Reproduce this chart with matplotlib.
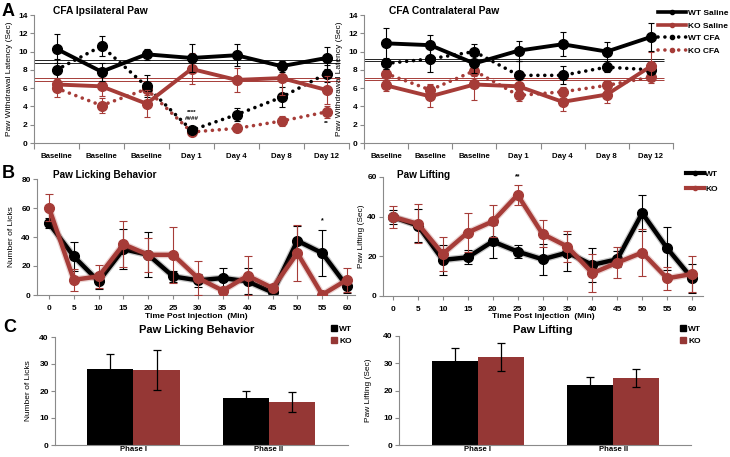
import matplotlib
matplotlib.use("Agg")
import matplotlib.pyplot as plt
import matplotlib.patheffects as pe
from matplotlib.lines import Line2D
from matplotlib.patches import Patch
import numpy as np

plt.rcParams['font.family'] = ['Liberation Sans', 'DejaVu Sans']

# ---- data: panel A (withdrawal latency, sec) ----
days = ["Baseline", "Baseline", "Baseline", "Day 1", "Day 4", "Day 8", "Day 12"]

wt_sal_ipsi = [10.3, 7.8, 9.7, 9.3, 9.6, 8.4, 9.3]
wt_sal_ipsi_err = [1.6, 1.0, 0.6, 1.5, 1.2, 0.6, 1.2]
ko_sal_ipsi = [6.4, 6.2, 4.3, 8.1, 6.9, 7.1, 5.8]
ko_sal_ipsi_err = [0.7, 1.1, 1.5, 1.7, 1.3, 1.8, 1.5]
wt_cfa_ipsi = [8.0, 10.6, 6.2, 1.4, 3.1, 5.0, 7.6]
wt_cfa_ipsi_err = [1.2, 1.1, 1.2, 0.3, 0.7, 1.1, 0.9]
ko_cfa_ipsi = [6.0, 4.1, 5.9, 1.2, 1.6, 2.4, 3.4]
ko_cfa_ipsi_err = [1.0, 0.8, 0.6, 0.2, 0.3, 0.5, 0.7]
ref_wt_ipsi = [9.08, 8.79]
ref_ko_ipsi = [7.08, 6.78]

wt_sal_contra = [10.9, 10.7, 8.7, 10.1, 10.8, 10.0, 11.6]
wt_sal_contra_err = [1.7, 1.1, 1.0, 1.1, 1.3, 1.0, 1.5]
ko_sal_contra = [6.3, 5.1, 6.4, 6.2, 4.5, 5.3, 8.4]
ko_sal_contra_err = [0.6, 1.2, 1.7, 0.5, 1.0, 0.9, 1.6]
wt_cfa_contra = [8.7, 9.2, 10.0, 7.4, 7.4, 8.3, 8.0]
wt_cfa_contra_err = [0.6, 1.4, 0.8, 1.6, 1.0, 0.5, 0.5]
ko_cfa_contra = [7.6, 5.8, 7.9, 5.2, 5.6, 6.3, 7.2]
ko_cfa_contra_err = [0.5, 0.6, 0.6, 0.6, 0.5, 0.5, 0.6]
ref_wt_contra = [9.2, 9.0]
ref_ko_contra = [7.1, 6.9]

# ---- data: panel B (time course) ----
times = [0, 5, 10, 15, 20, 25, 30, 35, 40, 45, 50, 55, 60]
wt_lick = [49.5, 26.6, 9.4, 31.6, 27.7, 12.8, 10.1, 11.7, 9.4, 1.8, 37.4, 28.9, 6.0]
wt_lick_err = [3.5, 9.8, 5.0, 14.0, 15.5, 4.0, 4.5, 7.0, 9.0, 1.5, 10.0, 16.0, 4.5]
ko_lick = [60.3, 10.5, 12.8, 35.0, 27.7, 27.7, 11.7, 3.0, 13.3, 4.8, 28.9, 0.2, 10.5]
ko_lick_err = [9.4, 7.4, 8.0, 16.0, 11.5, 19.5, 11.9, 2.0, 13.3, 2.0, 19.5, 0.5, 8.1]

wt_lift = [39.8, 35.5, 18.2, 19.5, 27.5, 22.4, 18.5, 21.9, 15.7, 18.5, 41.8, 24.1, 8.9]
wt_lift_err = [3.7, 8.5, 7.5, 3.5, 8.5, 3.2, 7.8, 9.5, 8.5, 4.0, 9.2, 10.9, 7.2]
ko_lift = [39.8, 36.4, 21.2, 32.0, 37.6, 51.0, 31.3, 24.9, 11.5, 16.8, 21.9, 8.9, 11.1]
ko_lift_err = [5.6, 9.9, 8.5, 9.8, 8.1, 5.1, 6.8, 7.7, 9.7, 7.8, 12.0, 5.8, 9.2]

# ---- data: panel C (phases) ----
phases = ["Phase I", "Phase II"]
wt_lick_phase = [28.0, 17.3]
wt_lick_phase_err = [5.6, 2.6]
ko_lick_phase = [27.8, 16.1]
ko_lick_phase_err = [7.4, 3.7]
wt_lift_phase = [30.9, 22.0]
wt_lift_phase_err = [4.6, 2.9]
ko_lift_phase = [32.3, 24.5]
ko_lift_phase_err = [5.1, 3.3]

BLACK = '#000000'
RED = '#A63C38'
BAR_RED = '#953735'
SPINE = '#8a8a8a'
DOT = (0, (0.01, 1.9))

W, H = 730, 457
fig = plt.figure(figsize=(7.3, 4.57), dpi=100)


def add_ax(x0, x1, ytop, ybot):
    return fig.add_axes([x0 / W, 1 - ybot / H, (x1 - x0) / W, (ybot - ytop) / H])


def style(ax, size=6):
    for s in ['top', 'right']:
        ax.spines[s].set_visible(False)
    for s in ['left', 'bottom']:
        ax.spines[s].set_color(SPINE)
        ax.spines[s].set_linewidth(0.8)
    ax.tick_params(labelsize=size, color=SPINE, length=3, width=0.8, pad=1.5)
    for lab in ax.get_xticklabels() + ax.get_yticklabels():
        lab.set_fontweight('bold')


def ftext(x, y, s, **kw):
    fig.text(x / W, 1 - y / H, s, **kw)


def panel_a(ax, wt_sal, wt_sal_e, ko_sal, ko_sal_e, wt_cfa, wt_cfa_e,
            ko_cfa, ko_cfa_e, ref_wt, ref_ko):
    x = np.arange(len(days))
    for v in ref_wt:
        ax.hlines(v, -0.5, 6.3, color='#222222', lw=0.7, zorder=1)
    for v in ref_ko:
        ax.hlines(v, -0.5, 6.3, color=RED, lw=0.7, zorder=1)
    eb = dict(elinewidth=0.8, capsize=2.5, capthick=0.8, ms=7, marker='o')
    ax.errorbar(x, ko_cfa, yerr=ko_cfa_e, color=RED, ecolor=RED, lw=2.6,
                ls=DOT, dash_capstyle='round', zorder=2, **eb)
    ax.errorbar(x, wt_cfa, yerr=wt_cfa_e, color=BLACK, ecolor=BLACK, lw=2.6,
                ls=DOT, dash_capstyle='round', zorder=3, **eb)
    ax.errorbar(x, ko_sal, yerr=ko_sal_e, color=RED, ecolor=RED, lw=2.8,
                zorder=4, **eb)
    ax.errorbar(x, wt_sal, yerr=wt_sal_e, color=BLACK, ecolor=BLACK, lw=2.8,
                zorder=5, **eb)
    ax.set_xlim(-0.5, 6.5)
    ax.set_ylim(0, 14)
    ax.set_yticks(range(0, 15, 2))
    ax.set_xticks(np.arange(-0.5, 7, 1))
    ax.set_xticklabels([])
    ax.set_xticks(x, minor=True)
    ax.set_xticklabels(days, minor=True)
    style(ax)
    ax.tick_params(axis='x', which='major', length=4)
    ax.tick_params(axis='x', which='minor', length=0, pad=7, labelsize=5.6)
    for lab in ax.get_xticklabels(minor=True):
        lab.set_fontweight('bold')
    ax.set_ylabel("Paw Withdrawal Latency (Sec)", fontsize=6)
    ax.yaxis.set_label_coords(-21 / 315, 0.5)


# ---- Panel A ----
axA1 = add_ax(34, 349, 15, 143)
panel_a(axA1, wt_sal_ipsi, wt_sal_ipsi_err, ko_sal_ipsi, ko_sal_ipsi_err,
        wt_cfa_ipsi, wt_cfa_ipsi_err, ko_cfa_ipsi, ko_cfa_ipsi_err,
        ref_wt_ipsi, ref_ko_ipsi)
axA1.text(3, 3.3, "****", ha='center', va='center', fontsize=4.5, fontweight='bold')
axA1.text(3, 2.7, "####", ha='center', va='center', fontsize=4.5, fontweight='bold')
axA1.text(6, 2.1, "**", ha='center', va='center', fontsize=4.5, fontweight='bold')

axA2 = add_ax(364, 673, 15, 143)
panel_a(axA2, wt_sal_contra, wt_sal_contra_err, ko_sal_contra, ko_sal_contra_err,
        wt_cfa_contra, wt_cfa_contra_err, ko_cfa_contra, ko_cfa_contra_err,
        ref_wt_contra, ref_ko_contra)

ftext(2, 11, "A", fontsize=13, fontweight='bold', va='center')
ftext(53, 11, "CFA Ipsilateral Paw", fontsize=7.4, fontweight='bold', va='center')
ftext(389, 11, "CFA Contralateral Paw", fontsize=7.4, fontweight='bold', va='center')

handlesA = [
    Line2D([], [], color=BLACK, lw=2.6, marker='o', ms=3),
    Line2D([], [], color=RED, lw=2.6, marker='o', ms=3),
    Line2D([], [], color=BLACK, lw=2.6, ls=DOT, dash_capstyle='round', marker='o', ms=3),
    Line2D([], [], color=RED, lw=2.6, ls=DOT, dash_capstyle='round', marker='o', ms=3),
]
fig.legend(handlesA, ["WT Saline", "KO Saline", "WT CFA", "KO CFA"],
           loc='center left', bbox_to_anchor=(658 / W, 1 - 32 / H), frameon=False,
           prop={'size': 6, 'weight': 'bold'}, handlelength=3.4, handletextpad=0.25,
           labelspacing=0.6, borderpad=0, borderaxespad=0, numpoints=1)


# ---- Panel B ----
def panel_b(ax, wt, wt_e, ko, ko_e, ymax, ylabel, lab_x):
    for y, e, c, z in [(wt, wt_e, BLACK, 2), (ko, ko_e, RED, 4)]:
        ax.errorbar(times, y, yerr=e, fmt='none', ecolor=c, elinewidth=0.8,
                    capsize=3, capthick=0.8, zorder=z)
        ax.plot(times, y, color=c, lw=3.2, solid_joinstyle='round', zorder=z,
                path_effects=[pe.Stroke(linewidth=5, foreground=c, alpha=0.22),
                              pe.Normal()])
        ax.plot(times, y, ls='none', marker='o', ms=7, color=c, zorder=z + 0.5)
    ax.set_ylim(0, ymax)
    ax.set_yticks(range(0, ymax + 1, 20))
    ax.set_xticks(times)
    style(ax)
    ax.tick_params(axis='x', pad=4)
    ax.set_ylabel(ylabel, fontsize=6)
    ax.yaxis.set_label_coords(lab_x, 0.5)


axB1 = add_ax(37, 355, 179, 295)
axB1.set_xlim(-2.4, 61.6)
panel_b(axB1, wt_lick, wt_lick_err, ko_lick, ko_lick_err, 80, "Number of Licks", -22 / 318)
axB1.text(55, 51.5, "*", ha='center', va='center', fontsize=5, fontweight='bold')

axB2 = add_ax(383, 703, 177, 296)
axB2.set_xlim(-2.0, 62.2)
panel_b(axB2, wt_lift, wt_lift_err, ko_lift, ko_lift_err, 60, "Paw Lifting (Sec)", -18 / 320)
axB2.text(25, 60, "**", ha='center', va='center', fontsize=5, fontweight='bold')

ftext(2, 174, "B", fontsize=13, fontweight='bold', va='center')
ftext(53, 175, "Paw Licking Behavior", fontsize=7.2, fontweight='bold', va='center')
ftext(397, 175, "Paw Lifting", fontsize=7.2, fontweight='bold', va='center')
ftext(196, 317, "Time Post Injection  (Min)", fontsize=6, fontweight='bold', ha='center', va='center')
ftext(543, 317, "Time Post Injection  (Min)", fontsize=6, fontweight='bold', ha='center', va='center')

handlesB = [Line2D([], [], color=BLACK, lw=3, marker='o', ms=3),
            Line2D([], [], color=RED, lw=3, marker='o', ms=3)]
fig.legend(handlesB, ["WT", "KO"], loc='center left', bbox_to_anchor=(686 / W, 1 - 181.5 / H),
           frameon=False, prop={'size': 6, 'weight': 'bold'}, handlelength=2.2,
           handletextpad=0.1, labelspacing=0.9, borderpad=0, borderaxespad=0, numpoints=1)


# ---- Panel C ----
def panel_c(ax, wt, wt_e, ko, ko_e, ylabel, lab_x, x_right):
    x = np.arange(len(phases))
    bw = 0.34
    ax.bar(x - bw / 2, wt, bw, color=BLACK, yerr=wt_e,
           error_kw=dict(ecolor=BLACK, elinewidth=0.9, capsize=3, capthick=0.9))
    ax.bar(x + bw / 2, ko, bw, color=BAR_RED, yerr=ko_e,
           error_kw=dict(ecolor=BLACK, elinewidth=0.9, capsize=3, capthick=0.9))
    ax.set_xlim(-0.58, x_right)
    ax.set_ylim(0, 40)
    ax.set_yticks(range(0, 41, 10))
    ax.set_xticks(x)
    ax.set_xticklabels(phases)
    style(ax)
    ax.tick_params(axis='x', length=0, pad=1, labelsize=5.6)
    ax.set_ylabel(ylabel, fontsize=6)
    ax.yaxis.set_label_coords(lab_x, 0.5)


axC1 = add_ax(55, 348, 337, 445)
panel_c(axC1, wt_lick_phase, wt_lick_phase_err, ko_lick_phase, ko_lick_phase_err,
        "Number of Licks", -23 / 293, 1.585)
axC2 = add_ax(399, 691, 336, 445)
panel_c(axC2, wt_lift_phase, wt_lift_phase_err, ko_lift_phase, ko_lift_phase_err,
        "Paw Lifting (Sec)", -27 / 292, 1.574)

ftext(3, 328, "C", fontsize=13, fontweight='bold', va='center')
ftext(197, 330, "Paw Licking Behavior", fontsize=8, fontweight='bold', ha='center', va='center')
ftext(543, 330, "Paw Lifting", fontsize=8, fontweight='bold', ha='center', va='center')

handlesC = [Patch(color=BLACK), Patch(color=BAR_RED)]
for lx in (331, 680):
    fig.legend(handlesC, ["WT", "KO"], loc='center left', bbox_to_anchor=(lx / W, 1 - 335 / H),
               frameon=False, prop={'size': 6, 'weight': 'bold'}, handlelength=0.7,
               handleheight=0.7, handletextpad=0.3, labelspacing=0.55, borderpad=0,
               borderaxespad=0)

fig.savefig("out.png", dpi=100)
